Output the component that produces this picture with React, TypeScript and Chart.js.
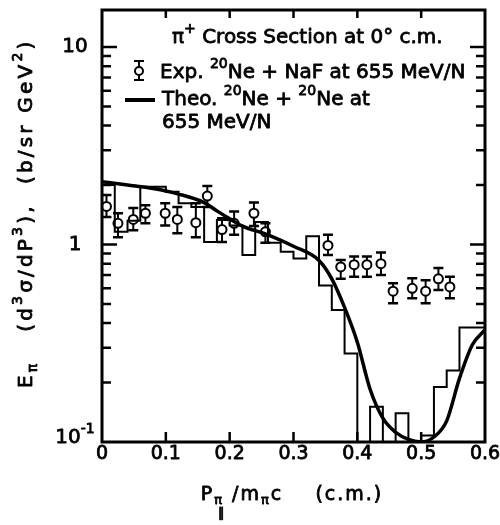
import React, { useEffect, useRef } from 'react';
import { Chart, registerables } from 'chart.js';
Chart.register(...registerables);

const FONT = '"DejaVu Sans", sans-serif';

// Experimental points: 20Ne + NaF at 655 MeV/N
const expX = [0.007, 0.025, 0.049, 0.068, 0.099, 0.118, 0.147, 0.165, 0.188, 0.207, 0.238, 0.256, 0.354, 0.374, 0.395, 0.415, 0.437, 0.456, 0.486, 0.507, 0.527, 0.545];
const expY = [1.56, 1.28, 1.34, 1.44, 1.44, 1.34, 1.29, 1.76, 1.19, 1.28, 1.44, 1.16, 0.99, 0.77, 0.79, 0.79, 0.80, 0.58, 0.60, 0.58, 0.67, 0.61];
const expHi = [1.78, 1.44, 1.53, 1.58, 1.62, 1.55, 1.62, 1.98, 1.36, 1.47, 1.63, 1.28, 1.12, 0.835, 0.87, 0.87, 0.91, 0.636, 0.674, 0.66, 0.76, 0.687];
const expLo = [1.38, 1.09, 1.18, 1.28, 1.25, 1.14, 1.09, 1.55, 1.03, 1.12, 1.24, 1.02, 0.885, 0.67, 0.687, 0.687, 0.70, 0.504, 0.534, 0.504, 0.588, 0.534];

// Theory smooth curve
const theoX = [0, 0.04, 0.08, 0.12, 0.16, 0.18, 0.20, 0.22, 0.26, 0.30, 0.34, 0.36, 0.38, 0.40, 0.42, 0.44, 0.46, 0.48, 0.50, 0.52, 0.54, 0.56, 0.58, 0.60];
const theoY = [2.08, 2.0, 1.92, 1.80, 1.63, 1.48, 1.35, 1.24, 1.12, 0.98, 0.83, 0.67, 0.48, 0.32, 0.185, 0.132, 0.112, 0.103, 0.100, 0.106, 0.128, 0.21, 0.31, 0.37];

// Theory histogram (bin left edges, last entry closes the final bin)
const histX = [0, 0.02, 0.04, 0.06, 0.08, 0.10, 0.12, 0.14, 0.16, 0.18, 0.20, 0.22, 0.24, 0.26, 0.28, 0.30, 0.32, 0.34, 0.36, 0.38, 0.40, 0.42, 0.44, 0.46, 0.48, 0.50, 0.52, 0.54, 0.56, 0.58, 0.60];
const histY = [2.05, 2.0, 1.16, 1.32, 1.96, 1.96, 1.85, 1.62, 1.55, 1.03, 1.33, 1.25, 0.885, 1.30, 1.02, 0.92, 0.85, 1.10, 0.62, 0.466, 0.281, 0.1, 0.151, 0.1, 0.14, 0.1, 0.108, 0.19, 0.23, 0.38, 0.38];

// Axis ticks
const xTicks = [0, 0.1, 0.2, 0.3, 0.4, 0.5, 0.6];
const xTickLabels = ['0', '0.1', '0.2', '0.3', '0.4', '0.5', '0.6'];
const yMajor = [0.1, 1, 10];
const yMinor = [0.2, 0.3, 0.4, 0.5, 0.6, 0.7, 0.8, 0.9, 2, 3, 4, 5, 6, 7, 8, 9];

type Seg = { t: string; k?: 'sup' | 'sub' | 'sub2' };

function drawRich(ctx: CanvasRenderingContext2D, segs: Seg[], x: number, y: number, size: number, align: 'left' | 'center' = 'left', spacing = 0) {
  const small = Math.round(size * 0.68);
  const fontFor = (k?: string) => `${k ? small : size}px ${FONT}`;
  (ctx as any).letterSpacing = `${spacing}px`;
  const widths = segs.map((s) => {
    ctx.font = fontFor(s.k);
    return s.k === 'sub2' ? 0 : ctx.measureText(s.t).width;
  });
  const total = widths.reduce((a, b) => a + b, 0);
  let cx = align === 'center' ? x - total / 2 : x;
  ctx.textAlign = 'left';
  ctx.textBaseline = 'middle';
  ctx.lineWidth = 0.8;
  ctx.lineJoin = 'round';
  let prevX = cx;
  let prevW = 0;
  segs.forEach((s, i) => {
    ctx.font = fontFor(s.k);
    let dy = 0;
    if (s.k === 'sup') dy = -size * 0.42;
    if (s.k === 'sub') dy = size * 0.32;
    if (s.k === 'sub2') dy = size * 1.0;
    let tx = cx;
    if (s.k === 'sub2') {
      const w = ctx.measureText(s.t).width;
      tx = prevX + prevW / 2 - w / 2 + 3;
    }
    ctx.fillText(s.t, tx, y + dy);
    ctx.strokeText(s.t, tx, y + dy);
    if (s.k !== 'sub2') {
      prevX = cx;
      prevW = widths[i];
      cx += widths[i];
    }
  });
  (ctx as any).letterSpacing = '0px';
}

export default function App() {
  const ref = useRef<HTMLCanvasElement>(null);
  useEffect(() => {
    const canvas = ref.current!;
    const overlay = {
      id: 'overlay',
      beforeDatasetsDraw(chart: any) {
        const { ctx, scales } = chart;
        const xs = scales.x, ys = scales.y;
        ctx.save();
        ctx.strokeStyle = '#000';
        expX.forEach((xv, i) => {
          const px = xs.getPixelForValue(xv);
          const pHi = ys.getPixelForValue(expHi[i]);
          const pLo = ys.getPixelForValue(expLo[i]);
          ctx.lineWidth = 2;
          ctx.beginPath();
          ctx.moveTo(px, pHi);
          ctx.lineTo(px, pLo);
          ctx.stroke();
          ctx.lineWidth = 2.5;
          ctx.beginPath();
          ctx.moveTo(px - 5, pHi);
          ctx.lineTo(px + 5, pHi);
          ctx.moveTo(px - 5, pLo);
          ctx.lineTo(px + 5, pLo);
          ctx.stroke();
        });
        ctx.restore();
      },
      afterDraw(chart: any) {
        const { ctx, chartArea: a, scales } = chart;
        const xs = scales.x, ys = scales.y;
        ctx.save();
        ctx.strokeStyle = '#000';
        ctx.fillStyle = '#000';
        // frame
        ctx.lineWidth = 3;
        ctx.strokeRect(a.left, a.top, a.right - a.left, a.bottom - a.top);
        // y ticks (inward, both sides)
        const yt = (v: number, len: number) => {
          const py = ys.getPixelForValue(v);
          if (py <= a.top + 1 || py >= a.bottom - 1) return;
          ctx.beginPath();
          ctx.moveTo(a.left, py);
          ctx.lineTo(a.left + len, py);
          ctx.moveTo(a.right, py);
          ctx.lineTo(a.right - len, py);
          ctx.stroke();
        };
        ctx.lineWidth = 2.5;
        yMajor.forEach((v) => yt(v, 15));
        yMinor.forEach((v) => yt(v, 9));
        // x ticks (inward, top and bottom)
        xTicks.forEach((v) => {
          const px = xs.getPixelForValue(v);
          if (px <= a.left + 1 || px >= a.right - 1) return;
          ctx.beginPath();
          ctx.moveTo(px, a.bottom);
          ctx.lineTo(px, a.bottom - 10);
          ctx.moveTo(px, a.top);
          ctx.lineTo(px, a.top + 8);
          ctx.stroke();
        });
        // x tick labels
        xTicks.forEach((v, i) => {
          drawRich(ctx, [{ t: xTickLabels[i] }], xs.getPixelForValue(v), a.bottom + 12, 19, 'center');
        });
        // y tick labels
        const yLab = (v: number): Seg[] => (v === 0.1 ? [{ t: '10' }, { t: '-1', k: 'sup' }] : [{ t: String(v) }]);
        yMajor.forEach((v) => {
          const py = Math.min(ys.getPixelForValue(v), a.bottom - 4);
          drawRich(ctx, yLab(v), 75, py, 20, 'center');
        });
        // x title
        drawRich(ctx, [
          { t: 'P' }, { t: 'π', k: 'sub' }, { t: '∥', k: 'sub2' }, { t: ' /m' }, { t: 'π', k: 'sub' }, { t: 'c    (c.m.)' },
        ], 292, 495, 19, 'center', 2);
        // y title (rotated)
        ctx.save();
        ctx.translate(27, 388);
        ctx.rotate(-Math.PI / 2);
        drawRich(ctx, [
          { t: 'E' }, { t: 'π', k: 'sub' }, { t: '   (d' }, { t: '3', k: 'sup' }, { t: 'σ/dP' }, { t: '3', k: 'sup' },
          { t: '),  (b/sr GeV' }, { t: '2', k: 'sup' }, { t: ')' },
        ], 0, 0, 20, 'left', 3.2);
        ctx.restore();
        // legend / annotation
        drawRich(ctx, [{ t: 'π' }, { t: '+', k: 'sup' }, { t: ' Cross Section at 0° c.m.' }], 172, 38, 20, 'left');
        // exp symbol
        ctx.lineWidth = 2;
        ctx.beginPath();
        ctx.moveTo(139, 61); ctx.lineTo(139, 80);
        ctx.moveTo(134, 61); ctx.lineTo(144, 61);
        ctx.moveTo(134, 80); ctx.lineTo(144, 80);
        ctx.stroke();
        ctx.beginPath();
        ctx.fillStyle = '#fff';
        ctx.arc(139, 71, 4, 0, Math.PI * 2);
        ctx.fill();
        ctx.stroke();
        ctx.fillStyle = '#000';
        drawRich(ctx, [{ t: 'Exp. ' }, { t: '20', k: 'sup' }, { t: 'Ne + NaF at 655 MeV/N' }], 160, 73, 20, 'left');
        // theory symbol
        ctx.lineWidth = 4;
        ctx.beginPath();
        ctx.moveTo(125, 100); ctx.lineTo(155, 100);
        ctx.stroke();
        drawRich(ctx, [{ t: 'Theo. ' }, { t: '20', k: 'sup' }, { t: 'Ne + ' }, { t: '20', k: 'sup' }, { t: 'Ne at' }], 162, 100, 20, 'left');
        drawRich(ctx, [{ t: '655 MeV/N' }], 162, 123, 20, 'left');
        ctx.restore();
      },
    };
    const chart = new Chart(canvas, {
      type: 'line',
      data: {
        datasets: [
          {
            label: 'hist',
            data: histX.map((x, i) => ({ x, y: histY[i] })),
            stepped: 'after',
            borderColor: '#000',
            borderWidth: 2,
            pointRadius: 0,
            fill: false,
          },
          {
            label: 'theo',
            data: theoX.map((x, i) => ({ x, y: theoY[i] })),
            borderColor: '#000',
            borderWidth: 3.5,
            pointRadius: 0,
            cubicInterpolationMode: 'monotone',
            fill: false,
          },
          {
            label: 'exp',
            data: expX.map((x, i) => ({ x, y: expY[i] })),
            showLine: false,
            pointRadius: 4.5,
            pointBorderWidth: 2,
            pointBackgroundColor: '#fff',
            pointBorderColor: '#000',
          },
        ],
      } as any,
      options: {
        animation: false,
        responsive: false,
        devicePixelRatio: 1,
        layout: { padding: { top: 10, right: 15, left: 0, bottom: 0 } },
        plugins: { legend: { display: false }, tooltip: { enabled: false } },
        scales: {
          x: {
            type: 'linear', min: 0, max: 0.6,
            grid: { display: false }, border: { display: false }, ticks: { display: false },
            afterFit: (s: any) => { s.height = 83; },
          },
          y: {
            type: 'logarithmic', min: 0.1, max: 15.4,
            grid: { display: false }, border: { display: false }, ticks: { display: false },
            afterFit: (s: any) => { s.width = 102; },
          },
        },
      } as any,
      plugins: [overlay],
    });
    return () => chart.destroy();
  }, []);
  return (
    <div style={{ position: 'fixed', left: 0, top: 0, width: 500, height: 525, background: '#fff' }}>
      <canvas ref={ref} width={500} height={525} style={{ display: 'block' }} />
    </div>
  );
}
